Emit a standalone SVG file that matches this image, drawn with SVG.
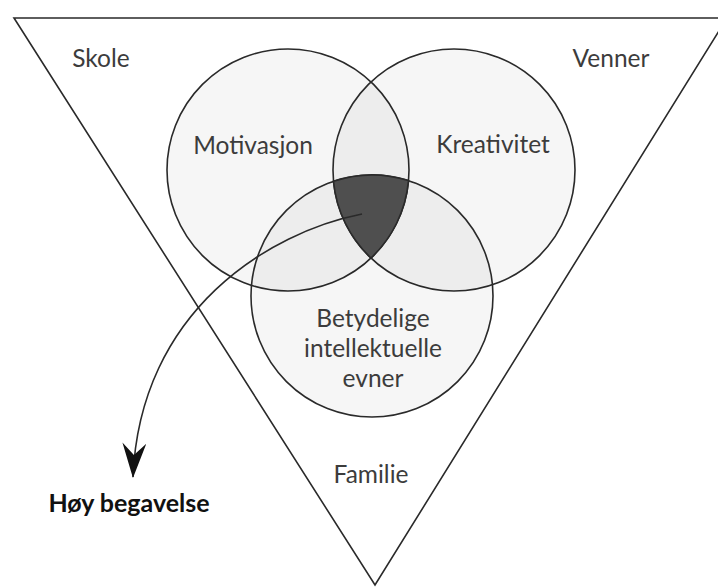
<svg xmlns="http://www.w3.org/2000/svg" width="718" height="588" viewBox="0 0 718 588">
  <defs>
    <style>
      .ln { fill: none; stroke: #2a2a2a; stroke-width: 1.6; }
      .circ { fill: #000; fill-opacity: 0.035; stroke: #2a2a2a; stroke-width: 1.6; }
      .lbl { font-family: Lato, "Open Sans", "Liberation Sans", sans-serif; font-size: 24.5px; fill: #3c3c3c; text-anchor: middle; }
      .bold { font-family: Lato, "Open Sans", "Liberation Sans", sans-serif; font-size: 25px; font-weight: bold; fill: #111; text-anchor: middle; }
    </style>
    <marker id="arrow" viewBox="0 0 36 24" refX="35" refY="12" markerWidth="36" markerHeight="24" markerUnits="userSpaceOnUse" orient="auto">
      <path d="M36,12 L1,0 L13,12 L1,24 Z" fill="#111"/>
    </marker>
  </defs>
  <rect width="718" height="588" fill="#ffffff"/>

  <g id="context">
    <path class="ln" d="M14,18 L727,18 L375,585 Z"/>
    <text class="lbl" x="101" y="67">Skole</text>
    <text class="lbl" x="611" y="67">Venner</text>
    <text class="lbl" x="371" y="483">Familie</text>
  </g>

  <g id="motivasjon">
    <circle class="circ" cx="288" cy="170" r="121"/>
    <text class="lbl" x="253" y="154">Motivasjon</text>
  </g>

  <g id="kreativitet">
    <circle class="circ" cx="454" cy="170" r="121"/>
    <text class="lbl" x="493" y="153">Kreativitet</text>
  </g>

  <g id="evner">
    <circle class="circ" cx="372" cy="296" r="121"/>
    <text class="lbl" x="373" y="327">Betydelige</text>
    <text class="lbl" x="373" y="357">intellektuelle</text>
    <text class="lbl" x="373" y="387">evner</text>
  </g>

  <g id="hoy-begavelse-kjerne">
    <path d="M333.5,181.3 A121,121 0 0 1 408.5,180.6 A121,121 0 0 1 371,258 A121,121 0 0 1 333.5,181.3 Z" fill="#4f4f4f" stroke="#2a2a2a" stroke-width="1.6"/>
  </g>

  <g id="connectors">
    <path class="ln" d="M362,214 C270,232 140,310 133,477" stroke="#1a1a1a" marker-end="url(#arrow)"/>
  </g>

  <g id="hoy-begavelse">
    <text class="bold" x="129" y="512">Høy begavelse</text>
  </g>
</svg>
